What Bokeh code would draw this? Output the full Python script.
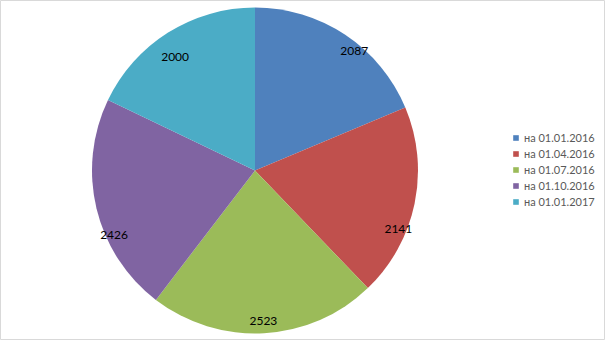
import math
from bokeh.plotting import figure
from bokeh.models import Range1d, Legend, LegendItem, ColumnDataSource
from bokeh.core.properties import value
from bokeh.embed import file_html
from bokeh.resources import INLINE

# data
labels = ["на 01.01.2016", "на 01.04.2016", "на 01.07.2016", "на 01.10.2016", "на 01.01.2017"]
values = [2087, 2141, 2523, 2426, 2000]
colors = ["#4F81BD", "#C0504D", "#9BBB59", "#8064A2", "#4BACC6"]

# layout: best-fit label placement nudges (degrees clockwise, radius fraction)
label_angle_nudge = [6.0, 10.5, 0.0, -11.0, -3.0]
label_radius_frac = [0.955, 0.95, 0.926, 0.95, 0.85]

W, H = 605, 340
cx, cy, R = 254.5, 170, 163

p = figure(width=W, height=H, output_backend="svg", toolbar_location=None,
           x_range=Range1d(0, W), y_range=Range1d(0, H), min_border=0,
           background_fill_color="white", border_fill_color="white")
p.axis.visible = False
p.grid.visible = False
p.outline_line_color = "#d9d9d9"
p.outline_line_width = 1

total = float(sum(values))
cum = 0.0
items = []
lx, ly, lt = [], [], []
for i, (lab, v, c) in enumerate(zip(labels, values, colors)):
    a0 = math.pi / 2 - cum / total * 2 * math.pi
    cum += v
    a1 = math.pi / 2 - cum / total * 2 * math.pi
    r = p.wedge(x=cx, y=H - cy, radius=R, start_angle=a0, end_angle=a1,
                direction="clock", fill_color=c, line_color=None)
    items.append(LegendItem(label=lab, renderers=[r]))
    mid = (a0 + a1) / 2 - math.radians(label_angle_nudge[i])
    rr = label_radius_frac[i] * R
    lx.append(cx + rr * math.cos(mid))
    ly.append(H - cy + rr * math.sin(mid))
    lt.append(str(v))

src = ColumnDataSource(dict(x=lx, y=ly, t=lt))
p.text(x="x", y="y", text="t", source=src, text_font=value("Lato"),
       text_font_size="12px", text_color="#000000", text_align="center",
       text_baseline="middle")

legend = Legend(items=items, location=(512, 131), orientation="vertical",
                label_text_font="Lato", label_text_font_size="11px",
                label_text_color="#595959", glyph_width=7, glyph_height=7,
                label_height=16, label_standoff=5, spacing=0, padding=0,
                margin=0, border_line_color=None, background_fill_alpha=0)
p.add_layout(legend, "center")

open("out.html", "w").write(file_html(p, INLINE))
